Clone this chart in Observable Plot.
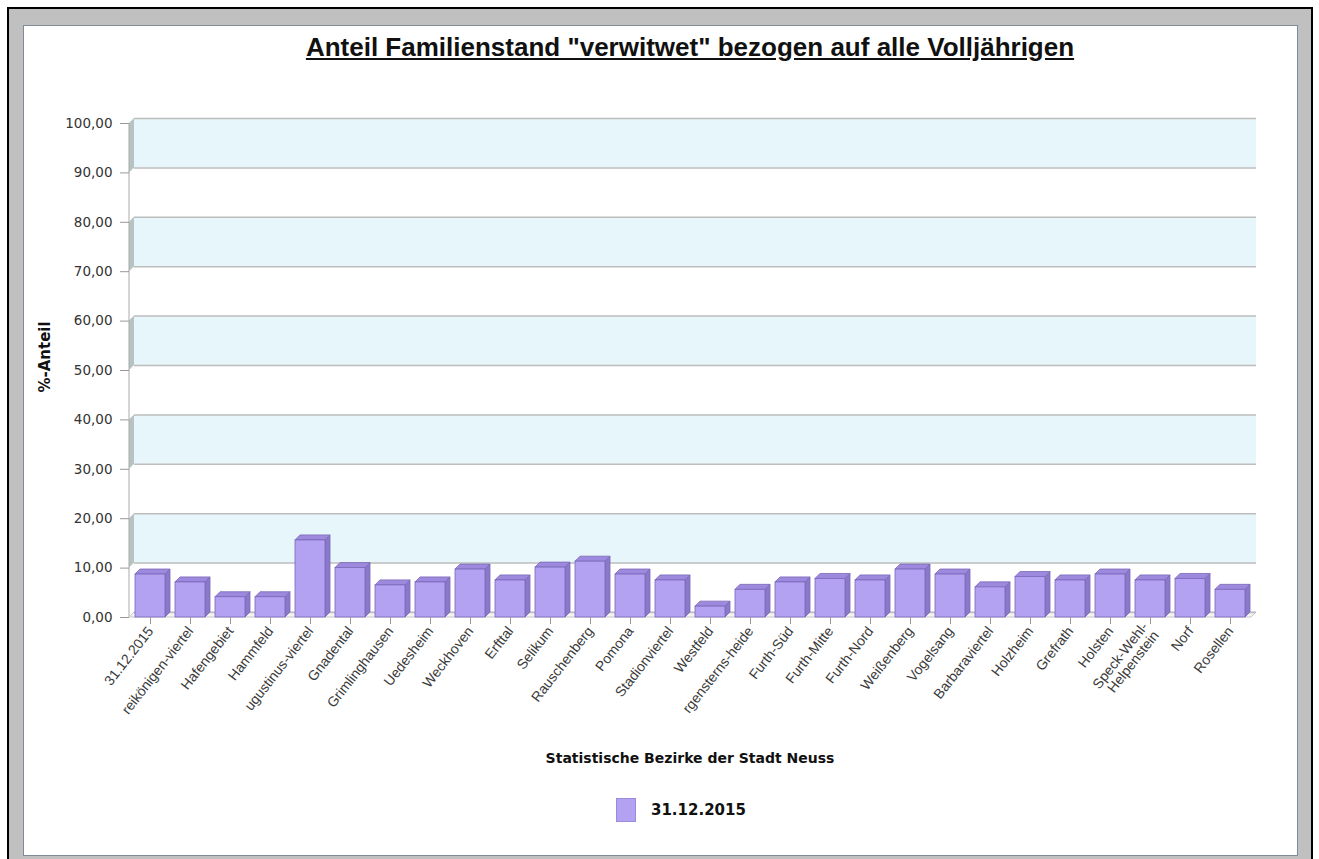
<!DOCTYPE html>
<html><head><meta charset="utf-8">
<script src="https://cdn.jsdelivr.net/npm/d3@7"></script>
<script src="https://cdn.jsdelivr.net/npm/@observablehq/plot@0.6"></script>
<style>
html,body{margin:0;padding:0;background:#fff;overflow:hidden}
#wrap{position:relative;width:1319px;height:859px;overflow:hidden}
#outer{position:absolute;left:7px;top:7px;width:1306px;height:900px;box-sizing:border-box;border:2px solid #000;background:#c0c0c0}
#panel{position:absolute;left:23px;top:25px;width:1275px;height:831px;box-sizing:border-box;border:1px solid #7f8c98;background:#fff}
#chart{position:absolute;left:0;top:0}
#title{position:absolute;left:190px;width:1000px;top:32px;text-align:center;font:bold 26px "Liberation Sans",Arial,sans-serif;color:#111;text-decoration:underline;line-height:30px}
#ytitle{position:absolute;left:45px;top:357px;transform:translate(-50%,-50%) rotate(-90deg);white-space:nowrap;font:bold 15px "DejaVu Sans",sans-serif;color:#111}
#xtitle{position:absolute;left:390px;width:600px;top:748px;text-align:center;font:bold 14px "DejaVu Sans",sans-serif;color:#111;line-height:20px}
#legend{position:absolute;left:616px;top:797px;height:25px;display:flex;align-items:center}
#swatch{width:20px;height:24px;background:#b3a1f2;box-sizing:border-box;border:1px solid #9d8ade}
#ltext{margin-left:15px;font:bold 15px "DejaVu Sans",sans-serif;color:#111}
</style></head>
<body>
<div id="wrap">
  <div id="outer"></div>
  <div id="panel"></div>
  <div id="chart"></div>
  <div id="title">Anteil Familienstand "verwitwet" bezogen auf alle Volljährigen</div>
  <div id="ytitle">%-Anteil</div>
  <div id="xtitle">Statistische Bezirke der Stadt Neuss</div>
  <div id="legend"><div id="swatch"></div><div id="ltext"></div></div>
</div>
<script>
// ---- data ----
const seriesName = "31.12.2015";
const categories = ["31.12.2015","reikönigen-viertel","Hafengebiet","Hammfeld","ugustinus-viertel","Gnadental","Grimlinghausen","Uedesheim","Weckhoven","Erfttal","Selikum","Rauschenberg","Pomona","Stadionviertel","Westfeld","rgensterns-heide","Furth-Süd","Furth-Mitte","Furth-Nord","Weißenberg","Vogelsang","Barbaraviertel","Holzheim","Grefrath","Holsten","Speck-Wehl-\nHelpenstein","Norf","Rosellen"];
const values = [8.7,7.1,4.1,4.1,15.6,10.0,6.5,7.1,9.7,7.5,10.1,11.3,8.7,7.5,2.2,5.6,7.1,7.8,7.5,9.7,8.7,6.1,8.2,7.5,8.7,7.5,7.8,5.6];
const yTicks = [0,10,20,30,40,50,60,70,80,90,100];
const shadedBands = [[10,20],[30,40],[50,60],[70,80],[90,100]];

document.getElementById("ltext").textContent = seriesName;

const data = categories.map((c, i) => ({cat: c, value: values[i]}));
const bands = shadedBands.map(([lo, hi]) => ({lo, hi}));

const D = 5; // 3D depth
const FRONT = "#b3a1f2", TOP = "#9d8ade", SIDE = "#8a78c9", EDGE = "#7a68b8";

function wall(index, scales, v, dim) {
  const g = d3.create("svg:g");
  const L = dim.marginLeft, R = dim.width - dim.marginRight;
  for (const i of index) {
    const top = Math.min(v.y1[i], v.y2[i]), bot = Math.max(v.y1[i], v.y2[i]);
    g.append("rect").attr("x", L + D).attr("y", top - D).attr("width", R - L).attr("height", bot - top).attr("fill", "#e7f6fa");
    g.append("path").attr("d", `M${L},${top}L${L + D},${top - D}L${L + D},${bot - D}L${L},${bot}Z`).attr("fill", "#b7c2c2");
  }
  const y0 = scales.y(0), y100 = scales.y(100);
  g.append("line").attr("x1", L).attr("x2", L).attr("y1", y100).attr("y2", y0).attr("stroke", "#aaa");
  g.append("path").attr("d", `M${L},${y0}L${L + D},${y0 - D}L${R + D},${y0 - D}L${R},${y0}Z`).attr("fill", "#f4f4f4").attr("stroke", "#c8c8c8");
  return g.node();
}

function bar3d(index, scales, v) {
  const g = d3.create("svg:g");
  const bw = scales.x.bandwidth();
  for (const i of index) {
    const x0 = v.x[i], x1 = x0 + bw;
    const yt = Math.min(v.y1[i], v.y2[i]), yb = Math.max(v.y1[i], v.y2[i]);
    g.append("path").attr("d", `M${x1},${yb}L${x1 + D},${yb - D}L${x1 + D},${yt - D}L${x1},${yt}Z`).attr("fill", SIDE).attr("stroke", EDGE).attr("stroke-width", 0.8);
    g.append("path").attr("d", `M${x0},${yt}L${x0 + D},${yt - D}L${x1 + D},${yt - D}L${x1},${yt}Z`).attr("fill", TOP).attr("stroke", EDGE).attr("stroke-width", 0.8);
    g.append("rect").attr("x", x0).attr("y", yt).attr("width", bw).attr("height", yb - yt).attr("fill", FRONT).attr("stroke", EDGE).attr("stroke-width", 0.8);
  }
  return g.node();
}

const chart = Plot.plot({
  width: 1319, height: 720,
  marginLeft: 129, marginRight: 68, marginTop: 123, marginBottom: 103,
  style: {background: "transparent", fontFamily: "DejaVu Sans", fontSize: "13px", color: "#333"},
  x: {domain: categories, paddingInner: 0.25, paddingOuter: 0.1, label: null},
  y: {domain: [0, 100], label: null},
  marks: [
    Plot.rectY(bands, {y1: "lo", y2: "hi", render: wall}),
    Plot.ruleY(yTicks, {stroke: "#bdbdbd", strokeWidth: 1.5, dx: D, dy: -D}),
    Plot.barY(data, {x: "cat", y: "value", render: bar3d}),
    Plot.axisY({ticks: yTicks, tickFormat: d => d.toFixed(2).replace(".", ","), tickSize: 9, tickPadding: 8, stroke: "#999", fill: "#333", fontSize: 13.5, label: null}),
    Plot.axisX({tickRotate: -52, tickSize: 7, tickPadding: 4, stroke: "#999", fill: "#3a3a3a", fontFamily: "Liberation Sans", fontSize: 14, label: null})
  ]
});
document.getElementById("chart").appendChild(chart);
</script>
</body></html>
